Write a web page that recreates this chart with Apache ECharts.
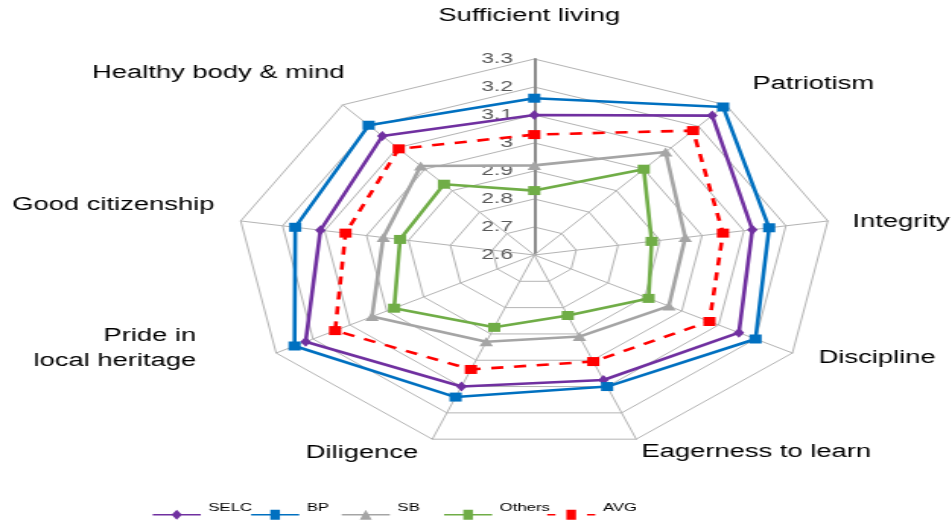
<!DOCTYPE html>
<html><head><meta charset="utf-8">
<script src="https://cdn.jsdelivr.net/npm/echarts@6/dist/echarts.min.js"></script>
<style>
html,body{margin:0;padding:0;background:#fff;overflow:hidden}
#wrap{width:952px;height:521px;overflow:hidden;position:relative}
#chart{width:626px;height:521px;transform:scaleX(1.5208);transform-origin:0 0}
</style></head>
<body><div id="wrap"><div id="chart"></div></div>
<script>
// Axes in clockwise order starting at the top
const categories = ['Sufficient living','Patriotism','Integrity','Discipline','Eagerness to learn','Diligence','Pride in\nlocal heritage','Good citizenship','Healthy body & mind'];
const tickLabels = ['2.6','2.7','2.8','2.9','3','3.1','3.2','3.3'];
const seriesNames = ['SELC','BP','SB','Others','AVG'];
const selc   = [3.10, 3.25, 3.12, 3.155, 3.075, 3.10, 3.22, 3.11, 3.155];
const bp     = [3.16, 3.29, 3.16, 3.20, 3.10, 3.14, 3.25, 3.17, 3.205];
const sb     = [2.92, 3.08, 2.96, 2.965, 2.91, 2.93, 3.04, 2.96, 3.015];
const others = [2.83, 3.00, 2.88, 2.91, 2.83, 2.875, 2.98, 2.92, 2.93];
const avg    = [3.03, 3.18, 3.05, 3.075, 3.005, 3.035, 3.14, 3.05, 3.095];

const axisMin = 2.6, axisMax = 3.3;
// ECharts lays radar indicators counter-clockwise; reorder to get clockwise layout
const order = [0,8,7,6,5,4,3,2,1];
const reorder = arr => order.map(i => arr[i]);

const FONT = "'Liberation Sans', Arial, sans-serif";

const indicator = reorder(categories).map((name, k) => {
  const ind = { name: name, min: axisMin, max: axisMax };
  if (k === 0) {
    ind.axisLabel = { show: true, color: '#595959', fontSize: 15, fontFamily: FONT, margin: 14,
      formatter: (v, i) => tickLabels[i] };
    ind.axisLine = { show: true, lineStyle: { color: '#8c8c8c', width: 2 } };
  }
  return ind;
});

const colors = ['#7030A0','#0070C0','#A5A5A5','#70AD47','#FF0000'];
const symbols = ['diamond','rect','triangle','rect','rect'];
const sizes = [10, 8, 9, 8, 8];
const values = [selc, bp, sb, others, avg];

const series = seriesNames.map((n, i) => ({
  type: 'radar',
  name: n,
  symbol: symbols[i],
  symbolSize: i === 0 ? [7, 10] : [sizes[i], 9],
  lineStyle: { color: colors[i], width: 2.6, type: i === 4 ? [8, 7] : 'solid' },
  itemStyle: { color: colors[i] },
  emphasis: { disabled: true },
  z: 2 + i,
  data: [{ name: n, value: reorder(values[i]) }]
}));

const icons = [
  'path://M0,4.2H32V5.8H0Z M16,0L19.5,5L16,10L12.5,5Z',
  'path://M0,4.2H32V5.8H0Z M12.8,0H19.2V10H12.8Z',
  'path://M0,4.2H32V5.8H0Z M16,0L20,10H12Z',
  'path://M0,4.2H32V5.8H0Z M12.8,0H19.2V10H12.8Z',
  'path://M0,4.2H5.5V5.8H0Z M12.8,0H19.2V10H12.8Z M26.5,4.2H32V5.8H26.5Z'
];
const legendLeft = [100.4, 165.1, 224.7, 292.0, 359.8];
const legends = seriesNames.map((n, i) => ({
  left: legendLeft[i], top: 502.2, orient: 'horizontal', padding: 0,
  itemWidth: 31.6, itemHeight: 10, selectedMode: false,
  formatter: '{t|{name}}',
  textStyle: { fontSize: 11, color: '#000', fontFamily: FONT,
    rich: { t: { fontSize: 11, fontFamily: FONT, color: '#000', padding: [0, 0, 14, 0] } } },
  data: [{ name: n, icon: icons[i] }]
}));

// axis name labels (placed like the reference)
const namePos = [
  { x: 348, y: 16, align: 'center' },
  { x: 494.7, y: 84, align: 'left' },
  { x: 560.5, y: 222, align: 'left' },
  { x: 538.2, y: 358, align: 'left' },
  { x: 421.7, y: 452, align: 'left' },
  { x: 275, y: 453, align: 'right' },
  { x: 129, y: 349, align: 'right' },
  { x: 7.9, y: 205, align: 'left' },
  { x: 60.5, y: 73, align: 'left' }
];
const graphic = categories.map((c, i) => ({
  type: 'text', x: namePos[i].x, y: namePos[i].y, silent: true,
  style: { text: c, font: '18px ' + FONT, fill: '#000', align: namePos[i].align,
    verticalAlign: 'middle', lineHeight: 25 }
}));

const chart = echarts.init(document.getElementById('chart'), null, { renderer: 'canvas' });
chart.setOption({
  animation: false,
  backgroundColor: '#fff',
  legend: legends,
  graphic: graphic,
  radar: {
    center: [351.3, 255], radius: 196, startAngle: 90, splitNumber: 7, shape: 'polygon',
    indicator: indicator,
    axisName: { show: false },
    axisLabel: { show: false },
    axisTick: { show: false },
    axisLine: { lineStyle: { color: '#b4b4b4', width: 1 } },
    splitLine: { lineStyle: { color: '#b4b4b4', width: 1 } },
    splitArea: { show: false }
  },
  series: series
});
</script>
</body></html>
